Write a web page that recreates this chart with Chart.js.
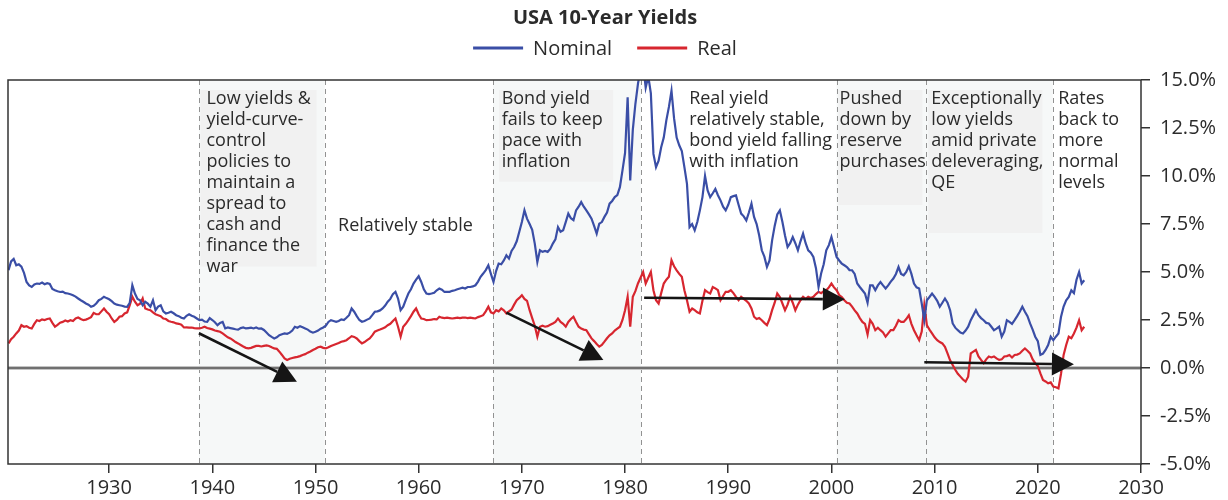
<!DOCTYPE html>
<html><head><meta charset="utf-8">
<script src="https://cdn.jsdelivr.net/npm/chart.js@4.4.1/dist/chart.umd.min.js"></script>
<style>html,body{margin:0;padding:0;background:#fff;}canvas{display:block;}</style>
</head><body>
<canvas id="c" width="1228" height="500"></canvas>
<script>
const chartTitle = 'USA 10-Year Yields';
const seriesNames = ['Nominal', 'Real'];
const seriesColors = ['#3a4ea6', '#d7262f'];
const quarterStart = 1920.25;
const quarterStep = 0.25;

const nominal = [
  5.09, 5.55, 5.68,
  5.35, 5.40, 5.28, 4.95,  4.48, 4.30, 4.22, 4.35,  4.40, 4.38, 4.45, 4.36,  4.42, 4.38, 4.12, 4.05,
  4.00, 3.96, 3.98, 3.90,  3.88, 3.84, 3.79, 3.72,  3.62, 3.53, 3.45, 3.36,  3.30, 3.19, 3.24, 3.36,
  3.53, 3.60, 3.71, 3.64,
  3.58, 3.48, 3.36, 3.30,  3.27, 3.24, 3.20, 3.19,  3.40, 4.31, 3.88, 3.60,  3.53, 3.27, 3.45, 3.35,
  3.19, 3.53, 3.01, 3.20,  3.27, 2.95, 2.84, 2.88,  2.93, 2.85, 2.75, 2.70,  2.62, 2.58, 2.72, 2.80,
  2.72, 2.67, 2.58, 2.49,  2.52, 2.42, 2.40, 2.60,
  2.50, 2.38, 2.23, 2.35,  2.40, 2.06, 2.11, 2.08,  2.05, 2.02, 2.00, 2.08,  2.11, 2.06, 2.08, 2.10,
  2.06, 2.11, 2.05, 2.06,  1.98, 1.85, 1.71, 1.62,  1.54, 1.60, 1.71, 1.76,  1.80, 1.78, 1.84, 1.95,
  2.15, 2.10, 2.18, 2.12,  2.06, 2.00, 1.90, 1.84,
  1.89, 1.95, 2.05, 2.11,  2.20, 2.40, 2.49, 2.45,  2.41, 2.45, 2.53, 2.50,  2.62, 2.75, 3.10, 2.93,
  2.70, 2.50, 2.41, 2.45,  2.52, 2.58, 2.75, 2.93,  2.95, 3.00, 3.10, 3.25,  3.45, 3.60, 3.85, 3.97,
  3.62, 3.01, 3.19, 3.55,  3.88, 4.10, 4.40, 4.60,
  4.78, 4.48, 4.10, 3.88,  3.85, 3.88, 3.92, 4.05,  4.14, 4.08, 3.96, 3.97,  3.97, 4.02, 4.05, 4.10,
  4.14, 4.18, 4.14, 4.22,  4.22, 4.25, 4.31, 4.50,  4.75, 4.92, 5.10, 5.35,  4.90, 4.48, 5.05, 5.44,
  5.40, 5.60, 5.87, 5.70,  6.10, 6.30, 6.60, 7.10,
  7.60, 8.21, 7.78, 7.50,  7.20, 6.48, 5.52, 6.13,  6.05, 6.10, 6.05, 6.20,  6.48, 6.70, 7.34, 7.10,
  7.17, 7.60, 8.04, 7.80,  7.70, 8.21, 8.40, 8.64,  8.40, 8.21, 8.00, 7.78,  7.40, 7.00, 7.52, 7.60,
  7.87, 8.10, 8.56, 8.70,  8.90, 9.00, 9.42, 10.29,
  11.20, 14.10, 9.77, 12.40,  13.75, 14.80, 15.60, 15.80,  14.60, 15.20, 14.30, 11.15,  10.46, 10.80, 11.50, 12.00,
  12.90, 13.60, 14.44, 13.00,  12.00, 11.60, 11.30, 10.46,  9.59, 7.34, 7.50, 7.17,  7.60, 8.21, 8.90, 10.00,
  9.25, 8.90, 9.10, 9.33,  9.00, 8.73, 8.40, 8.21,
  8.50, 8.90, 8.95, 8.99,  8.50, 8.04, 7.90, 7.69,  8.10, 8.56, 7.87, 7.50,  6.90, 6.13, 5.80, 5.26,
  5.60, 6.65, 7.40, 8.00,  8.21, 7.60, 6.90, 6.30,  6.50, 6.82, 6.50, 6.13,  6.60, 7.00, 6.50, 6.13,
  6.00, 5.78, 5.20, 4.22,  4.92, 5.40, 6.13, 6.40,
  6.82, 6.30, 5.78, 5.60,  5.44, 5.35, 5.26, 5.10,  5.09, 4.90, 4.40, 4.22,  4.05, 3.88, 3.40, 4.30,
  4.30, 4.05, 4.30, 4.48,  4.30, 4.14, 4.30, 4.50,  4.66, 4.90, 5.26, 4.90,  4.83, 5.00, 5.30, 4.90,
  4.40, 4.20, 4.14, 3.36,  2.49, 3.53, 3.70, 3.88,
  3.70, 3.50, 3.19, 3.40,  3.62, 3.40, 3.01, 2.32,  2.10, 1.97, 1.85, 1.80,  1.95, 2.15, 2.49, 2.75,
  3.01, 2.75, 2.60, 2.49,  2.35, 2.32, 2.15, 1.97,  2.05, 2.15, 1.63, 1.90,  2.49, 2.40, 2.30, 2.49,
  2.70, 2.93, 3.19, 2.93,  2.70, 2.32, 2.00, 1.63,
  1.40, 0.68, 0.75, 0.94,  1.20, 1.63, 1.45, 1.63,  1.80, 2.67, 3.20, 3.53,  3.70, 4.05, 3.90, 4.60,
  5.00, 4.40, 4.57
];

const real = [
  1.28, 1.50, 1.63,
  1.80, 1.95, 2.23, 2.15,  2.18, 2.10, 2.06, 2.30,  2.49, 2.45, 2.53, 2.50,  2.55, 2.58, 2.35, 2.15,
  2.25, 2.36, 2.40, 2.47,  2.42, 2.49, 2.45, 2.58,  2.63, 2.55, 2.49, 2.52,  2.58, 2.65, 2.87, 2.80,
  2.80, 2.95, 3.10, 2.93,
  2.80, 2.58, 2.40, 2.50,  2.67, 2.70, 2.84, 2.90,  3.27, 3.71, 3.45, 3.27,  3.35, 3.62, 3.10, 3.05,
  3.01, 2.90, 2.80, 2.75,  2.70, 2.58, 2.55, 2.45,  2.41, 2.38, 2.32, 2.30,  2.25, 2.11, 2.12, 2.10,
  2.11, 2.08, 2.06, 2.06,  2.10, 2.15, 2.08, 2.05,
  2.01, 1.95, 1.92, 1.89,  1.80, 1.70, 1.60, 1.54,  1.45, 1.35, 1.28, 1.20,  1.12, 1.05, 1.02, 1.05,
  1.10, 1.15, 1.15, 1.12,  1.15, 1.18, 1.15, 1.08,  1.02, 1.00, 0.85, 0.68,  0.50, 0.42, 0.48, 0.52,
  0.55, 0.58, 0.62, 0.68,  0.72, 0.80, 0.86, 0.94,
  1.00, 1.08, 1.11, 1.05,  1.02, 1.08, 1.15, 1.20,  1.25, 1.30, 1.37, 1.40,  1.45, 1.55, 1.66, 1.62,
  1.54, 1.40, 1.28, 1.35,  1.45, 1.54, 1.70, 1.89,  1.95, 2.00, 2.06, 2.12,  2.23, 2.30, 2.45, 2.58,
  2.15, 1.63, 2.15, 2.30,  2.49, 2.70, 2.93, 3.10,
  2.80, 2.58, 2.55, 2.49,  2.50, 2.52, 2.55, 2.53,  2.67, 2.62, 2.60, 2.62,  2.60, 2.58, 2.60, 2.62,
  2.60, 2.62, 2.63, 2.60,  2.62, 2.60, 2.58, 2.65,  2.70, 2.75, 2.95, 3.19,  2.90, 2.84, 3.01, 2.95,
  3.10, 3.00, 2.84, 2.95,  3.05, 3.30, 3.53, 3.65,
  3.79, 3.60, 3.50, 3.01,  2.60, 2.20, 1.63, 2.15,  2.20, 2.15, 2.18, 2.25,  2.32, 2.40, 2.58, 2.40,
  2.30, 2.15, 2.40, 2.55,  2.67, 2.40, 2.15, 2.05,  2.00, 1.97, 1.75, 1.54,  1.40, 1.25, 1.11, 1.20,
  1.37, 1.55, 1.70, 1.80,  1.95, 2.05, 2.15, 2.50,
  3.01, 3.71, 2.15, 3.71,  4.00, 4.40, 4.70, 5.00,  4.40, 4.70, 5.00, 4.05,  3.53, 3.36, 3.90, 4.40,
  4.60, 4.75, 5.61, 5.30,  5.09, 4.90, 4.75, 4.05,  3.53, 2.93, 3.10, 3.01,  2.90, 2.84, 3.50, 4.05,
  3.95, 3.88, 4.22, 4.15,  4.05, 3.53, 3.75, 3.97,
  3.97, 4.05, 3.90, 3.70,  3.53, 3.71, 3.60, 3.50,  3.36, 3.10, 2.67, 2.55,  2.60, 2.49, 2.35, 2.23,
  2.55, 3.01, 3.40, 3.88,  3.70, 3.36, 3.01, 3.30,  3.71, 3.40, 3.01, 3.30,  3.53, 3.71, 3.60, 3.71,
  3.65, 3.71, 3.85, 3.97,  3.90, 4.00, 4.05, 4.20,
  4.40, 4.20, 4.05, 3.80,  3.70, 3.53, 3.40, 3.36,  3.20, 3.00, 2.84, 2.60,  2.40, 2.30, 1.75, 2.50,
  2.30, 1.97, 2.10, 1.97,  1.85, 1.63, 1.80, 1.97,  1.97, 2.20, 2.49, 2.40,  2.40, 2.55, 2.75, 2.30,
  1.97, 1.70, 1.45, 1.90,  3.27, 2.23, 2.00, 1.80,
  1.60, 1.45, 1.35, 1.28,  1.10, 0.76, 0.40, 0.16,  -0.09, -0.30, -0.45, -0.60,  -0.71, -0.45, 0.76, 0.85,
  0.94, 0.60, 0.42, 0.25,  0.45, 0.60, 0.55, 0.60,  0.50, 0.42, 0.45, 0.60,  0.62, 0.68, 0.55, 0.68,
  0.70, 0.76, 0.90, 1.02,  0.90, 0.76, 0.45, 0.25,
  0.10, -0.28, -0.62, -0.70,  -0.80, -0.75, -0.97, -1.00,  -1.06, -0.30, 0.68, 1.20,  1.63, 1.55, 1.80, 2.10,
  2.49, 1.97, 2.15
];

const xTicks = [1930, 1940, 1950, 1960, 1970, 1980, 1990, 2000, 2010, 2020, 2030];
const yTicks = [-5, -2.5, 0, 2.5, 5, 7.5, 10, 12.5, 15];
const xRange = [1920.2, 2030];
const yRange = [-5, 15];

const dividers = [1938.7, 1950.9, 1967.2, 1981.55, 2000.5, 2009.15, 2021.45];
const shadedEras = [[1938.7, 1950.9], [1967.2, 1981.55], [2000.5, 2009.15], [2009.15, 2021.45]];
// [fromYear, toYear, topValue, bottomValue]
const noteBoxes = [
  [1938.85, 1950.1, 14.48, 5.28],
  [1967.78, 1978.84, 14.48, 9.70],
  [2000.66, 2008.81, 14.48, 8.49],
  [2009.39, 2020.45, 14.48, 7.03]
];
const notes = [
  { year: 1939.43, value: 13.75, lines: ['Low yields &', 'yield-curve-', 'control', 'policies to', 'maintain a', 'spread to', 'cash and', 'finance the', 'war'] },
  { year: 1952.19, value: 7.15, lines: ['Relatively stable'] },
  { year: 1968.04, value: 13.75, lines: ['Bond yield', 'fails to keep', 'pace with', 'inflation'] },
  { year: 1986.21, value: 13.75, lines: ['Real yield', 'relatively stable,', 'bond yield falling', 'with inflation'] },
  { year: 2000.79, value: 13.75, lines: ['Pushed', 'down by', 'reserve', 'purchases'] },
  { year: 2009.68, value: 13.75, lines: ['Exceptionally', 'low yields', 'amid private', 'deleveraging,', 'QE'] },
  { year: 2021.97, value: 13.75, lines: ['Rates', 'back to', 'more', 'normal', 'levels'] }
];
// [fromYear, fromValue, toYear, toValue]
const arrows = [
  [1938.7, 1.81, 1948.2, -0.71],
  [1968.5, 2.88, 1977.9, 0.42],
  [1981.85, 3.66, 2001.3, 3.58],
  [2009.0, 0.30, 2023.5, 0.19]
];

const toPoints = arr => arr.map((v, i) => ({ x: quarterStart + i * quarterStep, y: v }));

const FONT = '"Open Sans", "DejaVu Sans", sans-serif';
const INK = '#2b2b2b';

const decor = {
  id: 'decor',
  beforeDatasetsDraw(chart) {
    const { ctx, chartArea: a, scales: { x, y } } = chart;
    ctx.save();
    ctx.beginPath();
    ctx.rect(a.left, a.top, a.right - a.left, a.bottom - a.top);
    ctx.clip();
    ctx.fillStyle = '#f6f8f8';
    shadedEras.forEach(([s, e]) => {
      const x0 = x.getPixelForValue(s), x1 = x.getPixelForValue(e);
      ctx.fillRect(x0, a.top, x1 - x0, a.bottom - a.top);
    });
    ctx.fillStyle = '#f1f1f1';
    noteBoxes.forEach(([s, e, t, b]) => {
      const x0 = x.getPixelForValue(s), x1 = x.getPixelForValue(e);
      const y0 = y.getPixelForValue(t), y1 = y.getPixelForValue(b);
      ctx.fillRect(x0, y0, x1 - x0, y1 - y0);
    });
    ctx.strokeStyle = '#929292';
    ctx.lineWidth = 1;
    ctx.setLineDash([5, 4]);
    dividers.forEach(d => {
      const px = Math.round(x.getPixelForValue(d)) + 0.5;
      ctx.beginPath(); ctx.moveTo(px, a.top); ctx.lineTo(px, a.bottom); ctx.stroke();
    });
    ctx.setLineDash([]);
    const zy = y.getPixelForValue(0);
    ctx.strokeStyle = '#c4c4c4'; ctx.lineWidth = 4;
    ctx.beginPath(); ctx.moveTo(a.left, zy); ctx.lineTo(a.right, zy); ctx.stroke();
    ctx.strokeStyle = '#555'; ctx.lineWidth = 1.6;
    ctx.beginPath(); ctx.moveTo(a.left, zy); ctx.lineTo(a.right, zy); ctx.stroke();
    ctx.fillStyle = INK;
    ctx.font = '18px ' + FONT;
    ctx.textAlign = 'left';
    ctx.textBaseline = 'alphabetic';
    notes.forEach(n => {
      const px = x.getPixelForValue(n.year), py = y.getPixelForValue(n.value);
      n.lines.forEach((t, i) => ctx.fillText(t, px, py + i * 21));
    });
    ctx.restore();
  },
  afterDatasetsDraw(chart) {
    const { ctx, chartArea: a, scales: { x, y } } = chart;
    ctx.save();
    ctx.strokeStyle = '#151515';
    ctx.fillStyle = '#151515';
    ctx.lineWidth = 2.6;
    arrows.forEach(([x0v, y0v, x1v, y1v]) => {
      const x0 = x.getPixelForValue(x0v), y0 = y.getPixelForValue(y0v);
      const x1 = x.getPixelForValue(x1v), y1 = y.getPixelForValue(y1v);
      const ang = Math.atan2(y1 - y0, x1 - x0);
      const L = 22, W = 11.5;
      const bx = x1 - L * Math.cos(ang), by = y1 - L * Math.sin(ang);
      ctx.beginPath(); ctx.moveTo(x0, y0); ctx.lineTo(bx, by); ctx.stroke();
      ctx.beginPath();
      ctx.moveTo(x1, y1);
      ctx.lineTo(bx + W * Math.sin(ang), by - W * Math.cos(ang));
      ctx.lineTo(bx - W * Math.sin(ang), by + W * Math.cos(ang));
      ctx.closePath(); ctx.fill();
    });
    ctx.strokeStyle = '#333';
    ctx.lineWidth = 1.5;
    ctx.strokeRect(a.left, a.top, a.right - a.left, a.bottom - a.top);
    ctx.restore();
  },
  afterDraw(chart) {
    const { ctx } = chart;
    ctx.save();
    const cx = 605;
    ctx.fillStyle = INK;
    ctx.textBaseline = 'alphabetic';
    ctx.textAlign = 'center';
    ctx.font = 'bold 20px ' + FONT;
    ctx.fillText(chartTitle, cx, 24);
    ctx.font = '20px ' + FONT;
    ctx.textAlign = 'left';
    const lineLen = 50, gapText = 10, gapItem = 25;
    const widths = seriesNames.map(n => ctx.measureText(n).width);
    const total = seriesNames.length * (lineLen + gapText) + widths.reduce((s, w) => s + w, 0) + gapItem * (seriesNames.length - 1);
    let px = cx - total / 2;
    seriesNames.forEach((n, i) => {
      ctx.strokeStyle = seriesColors[i];
      ctx.lineWidth = 3;
      ctx.beginPath(); ctx.moveTo(px, 48); ctx.lineTo(px + lineLen, 48); ctx.stroke();
      px += lineLen + gapText;
      ctx.fillStyle = INK;
      ctx.fillText(n, px, 55);
      px += widths[i] + gapItem;
    });
    ctx.restore();
  }
};

new Chart(document.getElementById('c'), {
  type: 'line',
  data: {
    datasets: [
      { label: seriesNames[0], data: toPoints(nominal), borderColor: seriesColors[0], borderWidth: 2.2, pointRadius: 0, tension: 0 },
      { label: seriesNames[1], data: toPoints(real), borderColor: seriesColors[1], borderWidth: 2.2, pointRadius: 0, tension: 0 }
    ]
  },
  options: {
    responsive: false,
    animation: false,
    devicePixelRatio: 1,
    layout: { padding: { left: 8, top: 80, right: 0, bottom: 0 } },
    plugins: { legend: { display: false }, title: { display: false }, tooltip: { enabled: false } },
    scales: {
      x: {
        type: 'linear', position: 'bottom', min: xRange[0], max: xRange[1],
        afterBuildTicks: s => { s.ticks = xTicks.map(v => ({ value: v })); },
        afterFit: s => { s.height = 36; },
        grid: { drawOnChartArea: false, drawTicks: true, tickLength: 9, color: '#333', lineWidth: 1.5 },
        border: { display: false },
        ticks: { font: { family: FONT, size: 20 }, color: INK, padding: 3, maxRotation: 0, autoSkip: false, callback: v => String(v) }
      },
      y: {
        type: 'linear', position: 'right', min: yRange[0], max: yRange[1],
        afterBuildTicks: s => { s.ticks = yTicks.map(v => ({ value: v })); },
        afterFit: s => { s.width = 87; },
        grid: { drawOnChartArea: false, drawTicks: true, tickLength: 9, color: '#333', lineWidth: 1.5 },
        border: { display: false },
        ticks: { font: { family: FONT, size: 20 }, color: INK, padding: 10, autoSkip: false, callback: v => v.toFixed(1) + '%' }
      }
    }
  },
  plugins: [decor]
});
</script>
</body></html>
